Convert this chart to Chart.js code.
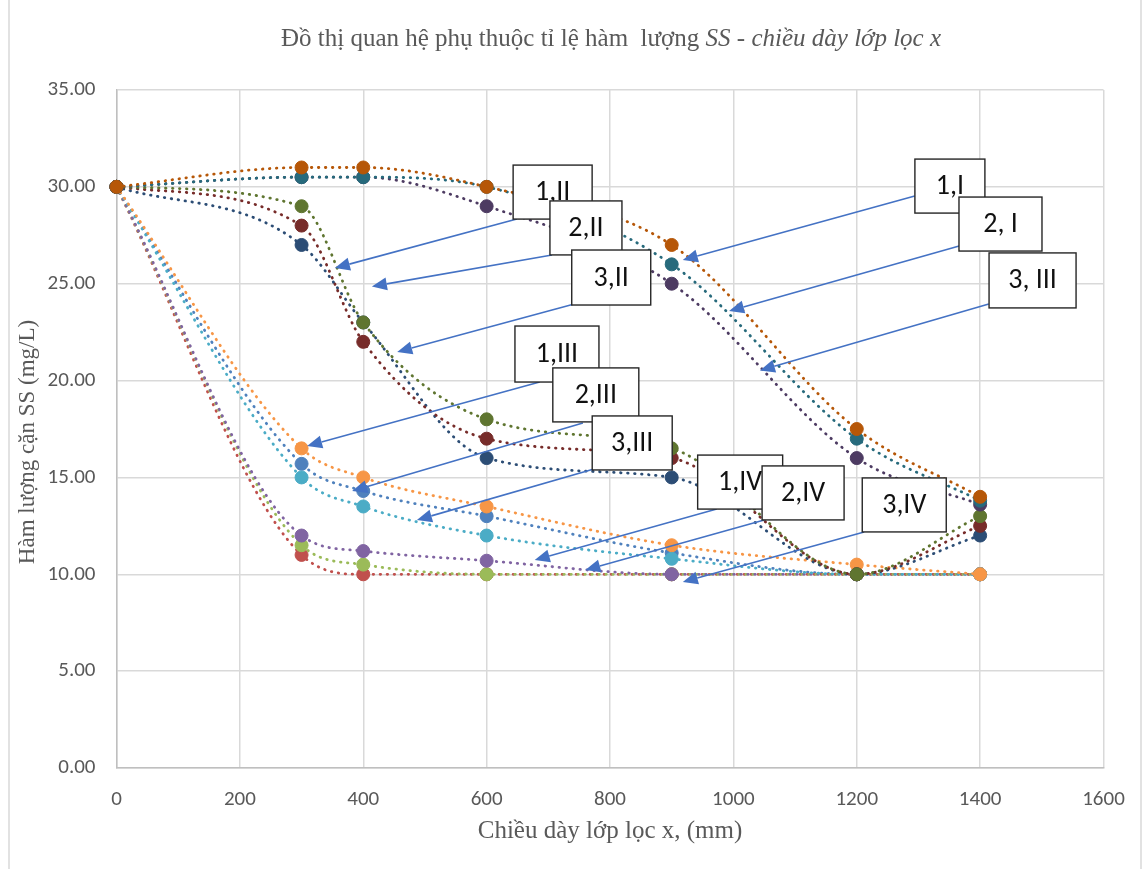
<!DOCTYPE html>
<html>
<head>
<meta charset="utf-8">
<script src="https://cdn.jsdelivr.net/npm/chart.js@4.4.1/dist/chart.umd.min.js"></script>
<style>
  body { margin: 0; background: #fff; }
  #wrap { width: 1148px; height: 869px; position: relative; }
</style>
</head>
<body>
<div id="wrap"><canvas id="chart"></canvas></div>
<script>
// x values (mm) shared by every series
const thickness = [0, 300, 400, 600, 900, 1200, 1400];

// SS values (mg/L), Excel series order
const s2III = [30, 15.7, 14.3, 13, 11.1, 10, 10];
const s3IV = [30, 11, 10, 10, 10, 10, 10];
const s2IV = [30, 11.5, 10.5, 10, 10, 10, 10];
const s1IV = [30, 12, 11.2, 10.7, 10, 10, 10];
const s3III = [30, 15, 13.5, 12, 10.8, 10, 10];
const s1III = [30, 16.5, 15, 13.5, 11.5, 10.5, 10];
const s3II = [30, 27, 23, 16, 15, 10, 12];
const s2II = [30, 28, 22, 17, 16, 10, 12.5];
const s1II = [30, 29, 23, 18, 16.5, 10, 13];
const s3I = [30, 30.5, 30.5, 29, 25, 16, 13.6];
const s2I = [30, 30.5, 30.5, 30, 26, 17, 13.8];
const s1I = [30, 31, 31, 30, 27, 17.5, 14];

const seriesNames = ['2,III', '3,IV', '2,IV', '1,IV', '3,III', '1,III', '3,II', '2,II', '1,II', '3,I', '2,I', '1,I'];
const seriesValues = [s2III, s3IV, s2IV, s1IV, s3III, s1III, s3II, s2II, s1II, s3I, s2I, s1I];
const colors = ['#4F81BD', '#C0504D', '#9BBB59', '#8064A2', '#4BACC6', '#F79646',
                '#2C4D75', '#772C2A', '#5F7530', '#4D3B62', '#276A7C', '#B65708'];

// callout labels: box centre and arrow start/tip in data units
const callouts = [
  { text: '1,II', cx: 707, cy: 29.73, w: 79, h: 54, sx: 649, sy: 28.34, tx: 354, ty: 25.81 },
  { text: '2,II', cx: 761, cy: 27.88, w: 72, h: 54, sx: 706, sy: 26.48, tx: 414, ty: 24.86 },
  { text: '3,II', cx: 802, cy: 25.32, w: 79, h: 55, sx: 742, sy: 23.95, tx: 455, ty: 21.48 },
  { text: '1,III', cx: 714, cy: 21.37, w: 84, h: 56, sx: 686, sy: 19.93, tx: 309, ty: 16.62 },
  { text: '2,III', cx: 777, cy: 19.26, w: 86, h: 54, sx: 756, sy: 17.81, tx: 382, ty: 14.30 },
  { text: '3,III', cx: 836, cy: 16.78, w: 80, h: 54, sx: 774, sy: 15.44, tx: 487, ty: 12.80 },
  { text: '1,IV', cx: 1011, cy: 14.76, w: 85, h: 54, sx: 973, sy: 13.37, tx: 678, ty: 10.74 },
  { text: '2,IV', cx: 1113, cy: 14.20, w: 82, h: 54, sx: 1050, sy: 12.80, tx: 760, ty: 10.22 },
  { text: '3,IV', cx: 1277, cy: 13.58, w: 84, h: 54, sx: 1212, sy: 12.18, tx: 918, ty: 9.60 },
  { text: '1,I', cx: 1351, cy: 30.04, w: 70, h: 54, sx: 1294, sy: 29.53, tx: 918, ty: 26.22 },
  { text: '2, I', cx: 1433, cy: 28.08, w: 83, h: 54, sx: 1366, sy: 26.95, tx: 993, ty: 23.59 },
  { text: '3, III', cx: 1485, cy: 25.17, w: 87, h: 55, sx: 1414, sy: 23.95, tx: 1043, ty: 20.52 }
];

const serif = '"Times New Roman", "Liberation Serif", serif';
const sans = 'Calibri, Lato, "Noto Sans", sans-serif';

const datasets = seriesValues.map((vals, i) => ({
  label: seriesNames[i],
  data: vals.map((v, j) => ({ x: thickness[j], y: v })),
  showLine: true,
  borderColor: colors[i],
  backgroundColor: colors[i],
  pointBackgroundColor: colors[i],
  pointBorderColor: colors[i],
  pointRadius: 6.5,
  pointBorderWidth: 1,
  borderWidth: 2.8,
  borderDash: [0.5, 6.5],
  borderCapStyle: 'round',
  cubicInterpolationMode: 'monotone',
  order: 12 - i,
  clip: false
}));

function drawArrow(ctx, x1, y1, x2, y2) {
  const ang = Math.atan2(y2 - y1, x2 - x1);
  const len = 15, half = 6.5;
  const bx = x2 - len * Math.cos(ang), by = y2 - len * Math.sin(ang);
  ctx.beginPath();
  ctx.moveTo(x1, y1);
  ctx.lineTo(bx, by);
  ctx.stroke();
  ctx.beginPath();
  ctx.moveTo(x2, y2);
  ctx.lineTo(bx + half * Math.sin(ang), by - half * Math.cos(ang));
  ctx.lineTo(bx - half * Math.sin(ang), by + half * Math.cos(ang));
  ctx.closePath();
  ctx.fill();
}

const decorPlugin = {
  id: 'decor',
  beforeDraw(chart) {
    const ctx = chart.ctx;
    ctx.save();
    ctx.fillStyle = '#fff';
    ctx.fillRect(0, 0, chart.width, chart.height);
    ctx.strokeStyle = '#D9D9D9';
    ctx.lineWidth = 1.5;
    ctx.strokeRect(9, -2, 1132, chart.height + 4);
    ctx.restore();
  },
  afterDatasetsDraw(chart) {
    const ctx = chart.ctx;
    const xs = chart.scales.x, ys = chart.scales.y;
    ctx.save();
    callouts.forEach(c => {
      ctx.strokeStyle = '#4472C4';
      ctx.fillStyle = '#4472C4';
      ctx.lineWidth = 1.6;
      drawArrow(ctx, xs.getPixelForValue(c.sx), ys.getPixelForValue(c.sy),
                xs.getPixelForValue(c.tx), ys.getPixelForValue(c.ty));
      const px = xs.getPixelForValue(c.cx), py = ys.getPixelForValue(c.cy);
      ctx.fillStyle = '#fff';
      ctx.fillRect(px - c.w / 2, py - c.h / 2, c.w, c.h);
      ctx.strokeStyle = '#262626';
      ctx.lineWidth = 1.4;
      ctx.strokeRect(px - c.w / 2, py - c.h / 2, c.w, c.h);
      ctx.fillStyle = '#111';
      ctx.font = '28px ' + sans;
      ctx.textAlign = 'center';
      ctx.textBaseline = 'middle';
      ctx.fillText(c.text, px, py + 1);
    });
    ctx.restore();
  },
  afterDraw(chart) {
    const ctx = chart.ctx;
    ctx.save();
    ctx.fillStyle = '#595959';
    ctx.textBaseline = 'alphabetic';
    // title, mixed regular and italic
    const parts = [
      ['Đồ thị quan hệ phụ thuộc tỉ lệ hàm  lượng ', false],
      ['SS', true],
      [' - ', false],
      ['chiều dày lớp lọc x', true]
    ];
    const tfont = '25px ' + serif;
    let total = 0;
    parts.forEach(p => {
      ctx.font = (p[1] ? 'italic ' : '') + tfont;
      total += ctx.measureText(p[0]).width;
    });
    let x = 611 - total / 2;
    parts.forEach(p => {
      ctx.font = (p[1] ? 'italic ' : '') + tfont;
      ctx.textAlign = 'left';
      ctx.fillText(p[0], x, 46);
      x += ctx.measureText(p[0]).width;
    });
    // axis titles
    ctx.font = '25px ' + serif;
    ctx.textAlign = 'center';
    ctx.fillText('Chiều dày lớp lọc x, (mm)', 610, 838);
    ctx.font = '23px ' + serif;
    ctx.translate(34, 442);
    ctx.rotate(-Math.PI / 2);
    ctx.fillText('Hàm lượng cặn SS (mg/L)', 0, 0);
    ctx.restore();
  }
};

new Chart(document.getElementById('chart'), {
  type: 'scatter',
  data: { datasets },
  plugins: [decorPlugin],
  options: {
    responsive: true,
    maintainAspectRatio: false,
    animation: false,
    layout: { padding: { top: 90, right: 44.5, left: 0, bottom: 0 } },
    plugins: { legend: { display: false }, tooltip: { enabled: false } },
    scales: {
      x: {
        type: 'linear',
        min: 0,
        max: 1600,
        afterFit: s => { s.height = 101; },
        ticks: {
          stepSize: 200,
          padding: 19,
          color: '#595959',
          font: { family: sans, size: 21 },
          callback: v => String(v)
        },
        grid: { color: '#D9D9D9', lineWidth: 1.5, drawTicks: false },
        border: { color: '#BFBFBF', width: 1.5 }
      },
      y: {
        min: 0,
        max: 35,
        afterFit: s => { s.width = 116.5; },
        ticks: {
          stepSize: 5,
          padding: 21,
          color: '#595959',
          font: { family: sans, size: 21 },
          callback: v => v.toFixed(2)
        },
        grid: { color: '#D9D9D9', lineWidth: 1.5, drawTicks: false },
        border: { color: '#BFBFBF', width: 1.5 }
      }
    }
  }
});
</script>
</body>
</html>
